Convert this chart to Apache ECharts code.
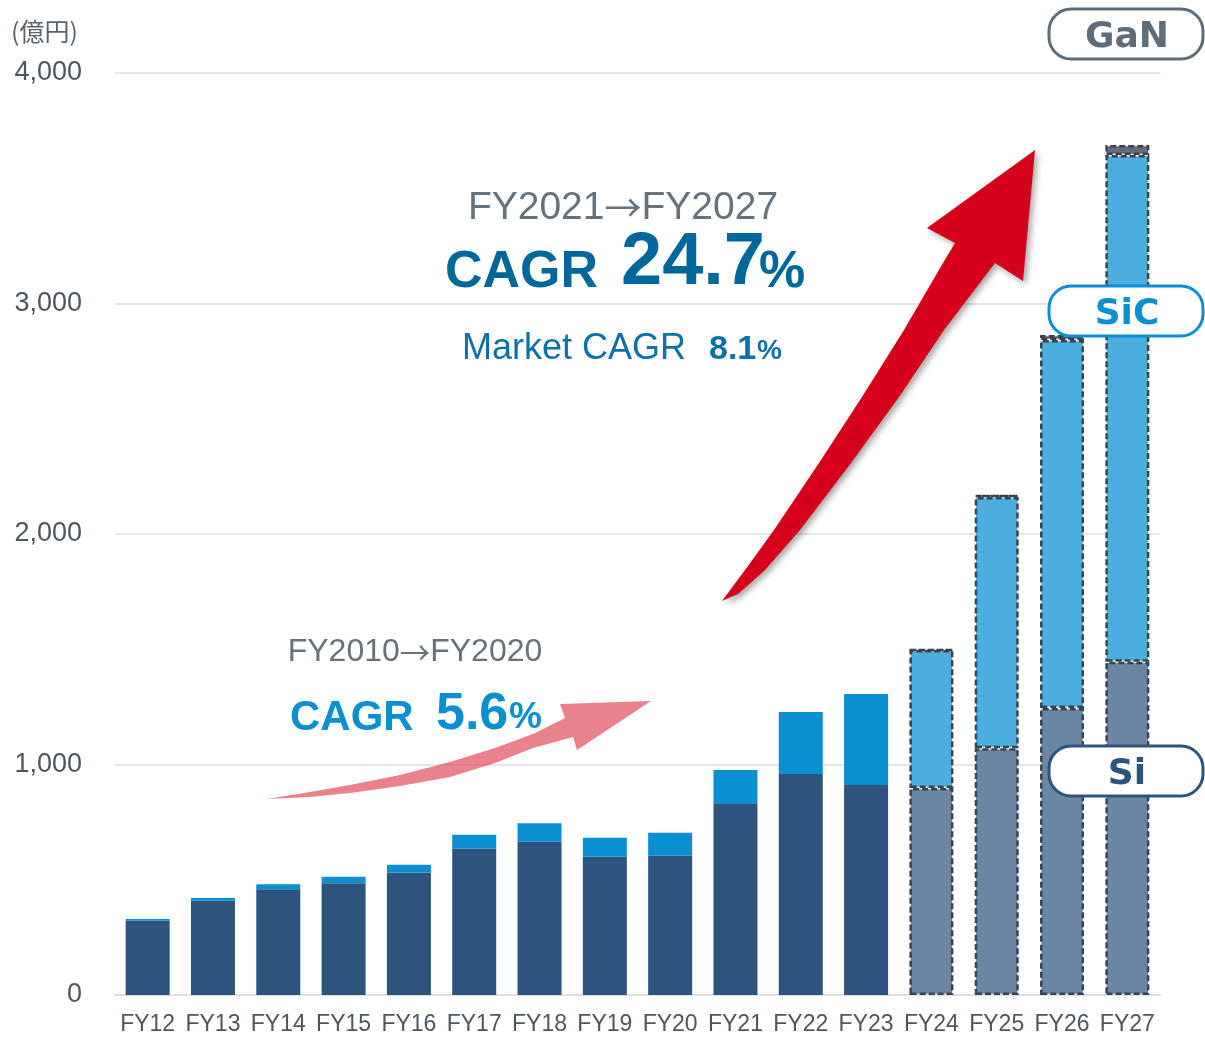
<!DOCTYPE html>
<html>
<head>
<meta charset="utf-8">
<script src="https://cdn.jsdelivr.net/npm/echarts@6/dist/echarts.min.js"></script>
<style>
  html, body { margin: 0; padding: 0; background: #fff; }
  #main { width: 1205px; height: 1037px; }
</style>
</head>
<body>
<div id="main"></div>
<script>
// values (億円)
var categories = ['FY12', 'FY13', 'FY14', 'FY15', 'FY16', 'FY17', 'FY18', 'FY19', 'FY20', 'FY21', 'FY22', 'FY23', 'FY24', 'FY25', 'FY26', 'FY27'];
var siValues  = [322, 409, 459, 485, 531, 635, 665, 600, 604, 829, 959, 911, 898, 1071, 1245, 1446];
var sicValues = [8, 12, 21, 28, 34, 60, 80, 82, 100, 147, 269, 395, 599, 1090, 1597, 2198];
var ganValues = [0, 0, 0, 0, 0, 0, 0, 0, 0, 0, 0, 0, 0, 8, 21, 44];
var firstForecast = 12; // FY24 onwards are forecasts
var yTicks = [0, 1000, 2000, 3000, 4000];

var FONT = '"Liberation Sans", Arial, sans-serif';

function buildData(values, actualColor, forecastColor) {
  return values.map(function (v, i) {
    if (i < firstForecast) {
      return { value: v, itemStyle: { color: actualColor } };
    }
    return {
      value: v,
      itemStyle: {
        color: forecastColor,
        borderColor: '#39434D',
        borderWidth: 2.5,
        borderType: [6, 3]
      }
    };
  });
}

function tag(text, y, color) {
  return {
    type: 'group',
    z: 100,
    children: [
      {
        type: 'rect',
        z: 100,
        shape: { x: 1049, y: y, width: 154, height: 50, r: 22 },
        style: { fill: '#fff', stroke: color, lineWidth: 3 }
      },
      {
        type: 'text',
        z: 101,
        x: 1127, y: y + 29,
        style: {
          text: text, fill: color, align: 'center', verticalAlign: 'middle',
          font: 'bold 36px "DejaVu Sans", Verdana, sans-serif'
        }
      }
    ]
  };
}

function txt(text, x, y, size, color, bold, align) {
  return {
    type: 'text', x: x, y: y, z: 100,
    style: {
      text: text, fill: color, align: align || 'left', verticalAlign: 'middle',
      font: (bold ? 'bold ' : '') + size + 'px ' + FONT,
      rich: {
        a: { fontFamily: '"Noto Sans CJK JP", sans-serif', fontSize: size * 0.95, fill: color }
      }
    }
  };
}

var chartDom = document.getElementById('main');
var myChart = echarts.init(chartDom);
var option;
option = {
  animation: false,
  grid: { left: 115, right: 45, top: 73, bottom: 42 },
  xAxis: {
    type: 'category',
    data: categories,
    axisTick: { show: false },
    axisLine: { lineStyle: { color: '#DCE0E5', width: 2 } },
    axisLabel: { color: '#4D5661', fontSize: 23, fontFamily: FONT, margin: 18, interval: 0 }
  },
  yAxis: {
    type: 'value',
    min: yTicks[0],
    max: yTicks[yTicks.length - 1],
    interval: 1000,
    axisLabel: {
      color: '#4D5661', fontSize: 27, fontFamily: FONT, margin: 33,
      formatter: function (v) { return v.toLocaleString('en-US'); }
    },
    splitLine: { lineStyle: { color: '#E3E6EA', width: 2 } }
  },
  series: [
    { name: 'Si', type: 'bar', stack: 'total', barWidth: 44, data: buildData(siValues, '#2D547D', '#6B86A3') },
    { name: 'SiC', type: 'bar', stack: 'total', barWidth: 44, data: buildData(sicValues, '#0A8FD0', '#4BAEDE') },
    { name: 'GaN', type: 'bar', stack: 'total', barWidth: 44, data: buildData(ganValues, '#6C747D', '#656E77') }
  ],
  graphic: [
    {
      type: 'text', x: 11, y: 31, z: 100,
      style: {
        text: '(億円)', fill: '#5A6570', verticalAlign: 'middle',
        font: '25px "Noto Sans CJK JP", sans-serif'
      }
    },
    // FY2021 -> FY2027
    txt('FY2021{a|→}FY2027', 623, 208, 39, '#66737D', false, 'center'),
    txt('CAGR', 445, 273, 52, '#00679D', true),
    txt('24.7', 621, 264, 74, '#00679D', true),
    txt('%', 759, 273, 52, '#00679D', true),
    txt('Market CAGR', 462, 349, 36, '#0D71A9', false),
    txt('8.1', 709, 350, 34, '#0D71A9', true),
    txt('%', 757, 351, 28, '#0D71A9', true),
    // FY2010 -> FY2020
    txt('FY2010{a|→}FY2020', 415, 652, 32, '#66737D', false, 'center'),
    txt('CAGR', 290, 718, 42, '#0A8FD0', true),
    txt('5.6', 436, 715, 52, '#0A8FD0', true),
    txt('%', 509, 718, 37, '#0A8FD0', true),
    // pink arrow
    {
      type: 'polygon', z: 100,
      shape: {
        points: [[267, 799], [310, 792], [350, 785], [400, 775], [450, 762], [495, 748], [533, 734], [565, 718],
                 [560, 704], [651, 701], [577, 750], [573, 737],
                 [533, 748], [495, 763], [450, 777], [400, 786], [350, 793], [310, 797]]
      },
      style: { fill: 'rgba(226, 88, 100, 0.75)' }
    },
    // red arrow
    {
      type: 'polygon', z: 100,
      shape: {
        points: [[722, 601], [748, 566], [774, 530], [819, 463], [862, 397], [904, 330], [943, 263], [955, 243],
                 [927, 228], [1035, 150], [1023, 281], [995, 263],
                 [944, 330], [899, 397], [851, 463], [800, 530], [765, 570], [738, 594]]
      },
      style: {
        fill: '#D7001A',
        shadowBlur: 6, shadowColor: 'rgba(0,0,0,0.35)', shadowOffsetX: 3, shadowOffsetY: 3
      }
    },
    tag('GaN', 9, '#5E6D78'),
    tag('SiC', 286, '#0A8FD0'),
    tag('Si', 746, '#2D547D')
  ]
};

option && myChart.setOption(option);
</script>
</body>
</html>
